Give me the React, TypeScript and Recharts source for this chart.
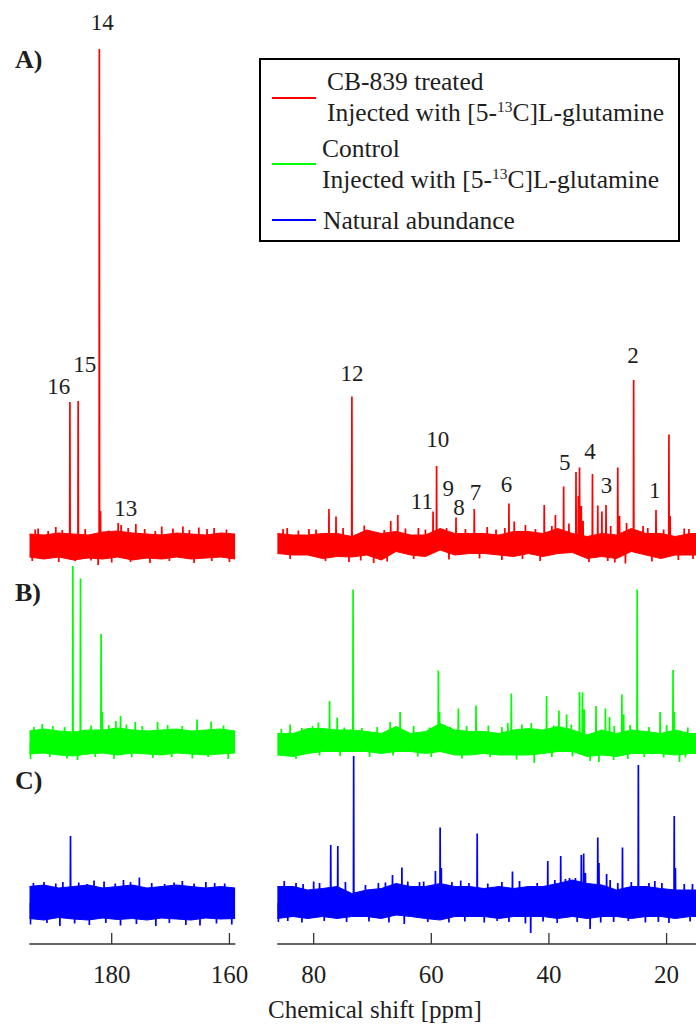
import React from 'react';
import { ComposedChart, Area, Line, Scatter, XAxis, YAxis } from 'recharts';

const FONT = "'Liberation Serif', 'Times New Roman', serif";
const INK = '#1e1e1e';
const AXIS = '#333';

type Peak = [number, number];
type Label = [string, number, number];

// x ticks for the two axis segments (ppm)
const leftTicks = [180, 160];
const rightTicks = [80, 60, 40, 20];

// noise band sample grid (ppm)
const leftGrid = [194, 191.5, 189, 186.5, 184, 181.5, 179, 176.5, 174, 171.5, 169, 166.5, 164, 161.5, 159];
const rightGrid = [86.2, 83.5, 81, 78.5, 76, 73.5, 71, 68.5, 66, 63.5, 61, 58.5, 56, 53.5, 51, 48.5, 46, 43.5, 41, 38.5, 36, 33.5, 31, 28.5, 26, 23.5, 21, 18.5, 16, 15];

// A) CB-839 treated (red) - noise envelope, a.u.
const redLeftHi = [2.4, 2.2, 2.6, 2.4, 2.2, 2.8, 3.0, 2.6, 2.4, 2.2, 2.6, 2.4, 2.2, 2.6, 2.4];
const redLeftLo = [-2.2, -2.6, -2.2, -2.8, -2.4, -2.6, -2.2, -2.8, -2.4, -2.6, -2.2, -2.6, -2.4, -2.2, -2.6];
const redRightHi = [2.5, 2.2, 2.2, 2.5, 2.5, 1.9, 3.2, 2.5, 2.9, 2.2, 2.2, 3.5, 2.5, 2.5, 2.5, 2.2, 2.9, 2.9, 2.5, 3.5, 2.5, 1.9, 2.5, 2.2, 3.5, 2.5, 2.5, 1.9, 2.5, 2.5];
const redRightLo = [-1.5, -1.8, -1.8, -2.5, -2.1, -2.2, -1.8, -2.8, -1.1, -1.8, -2.1, -0.8, -1.8, -1.5, -1.5, -1.8, -2.1, -1.5, -2.1, -1.5, -1.3, -2.5, -2.1, -2.5, -1.1, -1.8, -2.5, -1.8, -1.8, -1.8];

// B) control (green)
const greenLeftHi = [2.2, 2.6, 2.2, 2.0, 2.4, 2.4, 2.8, 2.4, 2.2, 2.4, 2.6, 2.2, 2.4, 2.6, 2.2];
const greenLeftLo = [-2.4, -2.2, -2.6, -2.8, -2.4, -2.2, -2.6, -2.2, -2.4, -2.6, -2.2, -2.4, -2.6, -2.4, -2.2];
const greenRightHi = [1.7, 1.7, 2.7, 2.7, 2.4, 2.4, 2.1, 1.7, 3.1, 1.7, 2.1, 3.7, 2.4, 2.1, 2.1, 1.7, 2.4, 2.7, 2.4, 3.1, 2.4, 1.4, 2.4, 1.7, 2.4, 2.1, 1.7, 2.4, 1.7, 1.7];
const greenRightLo = [-2.6, -2.9, -2.3, -1.9, -1.9, -1.9, -1.9, -2.3, -1.9, -1.9, -2.3, -1.9, -2.6, -2.6, -2.3, -2.6, -2.6, -2.6, -2.3, -1.9, -1.9, -2.9, -2.6, -2.9, -2.3, -2.3, -2.3, -2.6, -2.3, -2.3];

// C) natural abundance (blue)
const blueLeftHi = [3.3, 3.6, 3.0, 3.3, 3.6, 3.0, 3.3, 3.6, 3.0, 3.3, 3.6, 3.3, 3.0, 3.3, 3.0];
const blueLeftLo = [-3.1, -3.4, -2.9, -3.2, -3.4, -3.0, -3.3, -3.1, -3.4, -3.0, -3.2, -3.4, -3.0, -3.2, -3.1];
const blueRightHi = [3.3, 3.3, 2.6, 2.9, 3.3, 1.9, 2.6, 2.9, 3.9, 3.3, 3.3, 3.9, 3.3, 3.3, 2.9, 3.3, 2.9, 3.3, 3.3, 3.9, 4.6, 3.9, 3.6, 2.6, 3.3, 3.3, 2.9, 2.6, 2.6, 2.6];
const blueRightLo = [-3.1, -2.7, -3.1, -2.7, -3.1, -2.7, -2.7, -3.1, -2.4, -2.7, -3.1, -3.4, -2.7, -2.7, -2.7, -3.1, -2.7, -2.7, -2.7, -3.1, -2.7, -3.1, -2.7, -2.7, -3.1, -2.7, -2.7, -3.1, -2.7, -2.7];

// resolved peaks [ppm, height a.u.]
const redLeftPeaks: Peak[] = [
  [192.5, 3.5], [189.5, 3.8], [187.1, 28.8], [185.7, 29.0], [182.3, -3.8], [182.1, 99.4], [181.9, 7.0],
  [178.9, 4.6], [178.4, 4.2], [175.9, 4.4], [171.5, 3.9], [167.9, 3.9], [165.2, 3.7], [162.6, 3.6],
];
const redRightPeaks: Peak[] = [
  [84.5, 3.6], [80.8, 3.4], [77.4, 7.4], [76.2, 5.9], [74.0, -3.2], [73.5, 29.9], [69.8, -3.4], [66.9, 5.0],
  [65.7, 6.2], [62.2, 3.6], [59.7, 6.9], [59.1, 16.0], [55.8, 5.7], [52.7, 7.4], [50.5, 3.8], [46.8, 8.5],
  [45.9, 4.9], [44.0, 4.2], [40.8, 8.2], [38.9, 6.2], [37.5, 11.9], [35.4, 14.8], [35.0, 10.0], [34.8, 15.7],
  [34.5, 8.0], [34.2, 5.0], [32.6, 14.4], [31.7, 8.1], [31.0, 6.9], [30.3, 8.2], [28.3, 15.7], [28.0, 6.0],
  [27.0, -3.5], [25.6, 33.2], [24.0, 4.0], [21.8, 7.2], [19.6, 22.3], [19.4, 6.0], [17.0, 3.5],
];
const greenLeftPeaks: Peak[] = [
  [191.8, 3.6], [186.6, 35.2], [185.3, 32.7], [181.8, 21.6], [181.6, 6.0], [179.3, 4.2], [178.5, 5.2],
  [176.0, 4.0], [172.2, 4.0], [165.5, 4.5], [163.1, 4.1],
];
const greenRightPeaks: Peak[] = [
  [84.0, 3.5], [79.2, 3.9], [77.3, 8.2], [76.0, 4.9], [73.3, 30.5], [67.0, 4.0], [65.3, 6.0], [58.8, 14.3],
  [58.6, 6.0], [55.4, 6.7], [52.4, 7.3], [47.0, 3.8], [46.4, 9.7], [42.5, -4.2], [40.4, 9.2], [38.3, 6.3],
  [37.0, 5.5], [34.8, 10.0], [34.3, 9.9], [34.0, 6.5], [32.0, 7.2], [31.5, -4.0], [30.4, 6.7], [29.7, 5.0],
  [27.6, 9.5], [27.3, 5.5], [25.0, 30.5], [21.1, 6.0], [18.9, 14.4], [18.7, 6.0], [17.8, -4.0],
];
const blueLeftPeaks: Peak[] = [
  [188.3, 4.2], [187.0, 13.4], [183.0, 4.5], [178.0, 4.6], [175.3, 5.1], [168.0, 4.4], [162.5, 4.0],
];
const blueRightPeaks: Peak[] = [
  [80.0, 4.3], [77.1, 11.6], [75.9, 11.4], [73.2, 29.4], [69.0, 4.0], [66.6, 5.6], [65.0, 7.1], [62.0, 4.2],
  [59.3, 6.4], [58.5, 15.1], [58.3, 7.0], [55.0, 4.5], [52.2, 13.9], [46.2, 6.3], [43.1, -6.0], [40.2, 8.4],
  [38.0, 9.4], [36.5, 5.0], [34.5, 9.6], [34.1, 9.9], [33.8, 6.0], [33.0, -5.2], [31.7, 13.1], [31.5, 8.0],
  [30.2, 5.8], [27.5, 11.1], [24.8, 27.6], [22.0, 4.4], [18.7, 17.4], [18.5, 7.0],
];

// single-point noise spikes poking out of the band [ppm, a.u.]
const redLeftSpikes: Peak[] = [
  [193.0, 3.3], [190.8, 3.0], [188.4, 3.2], [184.5, 3.4], [180.5, 3.1], [177.2, 3.6], [174.4, 3.4], [172.6, 3.0],
  [169.6, 3.5], [166.8, 3.2], [163.8, 3.4], [160.5, 3.3], [193.5, -3.0], [189.0, -3.2], [186.2, -3.0], [183.5, -2.9],
  [180.0, -3.3], [176.8, -3.2], [173.5, -3.4], [170.2, -3.0], [166.0, -3.4], [163.0, -3.0], [160.0, -3.2],
];
const redRightSpikes: Peak[] = [
  [85.2, 3.4], [82.6, 3.1], [79.6, 3.3], [75.0, 3.6], [71.4, 4.1], [68.0, 3.2], [64.4, 3.5], [61.0, 3.3],
  [57.4, 3.6], [54.2, 3.4], [49.0, 3.3], [47.5, 3.6], [42.3, 3.4], [39.5, 4.0], [36.6, 4.5], [29.5, 4.0],
  [26.8, 4.6], [23.2, 3.6], [20.5, 3.3], [16.2, 3.4], [84.0, -2.6], [78.0, -3.0], [72.0, -2.9], [67.5, -3.1],
  [63.0, -2.6], [57.0, -2.7], [51.8, -2.5], [48.0, -2.8], [44.5, -2.6], [41.5, -3.0], [33.2, -3.2], [30.0, -3.0],
  [28.8, -3.3], [22.5, -3.1], [18.0, -2.8], [15.5, -2.6],
];
const greenLeftSpikes: Peak[] = [
  [193.2, 3.0], [190.0, 3.2], [188.0, 3.0], [183.5, 3.3], [180.5, 3.4], [177.5, 3.5], [174.8, 3.2], [170.5, 3.4],
  [168.0, 3.2], [161.0, 3.3], [193.8, -3.4], [190.5, -3.0], [187.6, -3.3], [185.8, -3.6], [182.8, -3.0],
  [179.6, -3.4], [176.6, -3.0], [173.0, -3.2], [169.8, -3.0], [166.3, -3.3], [163.6, -3.0], [160.2, -3.4],
];
const greenRightSpikes: Peak[] = [
  [85.5, 2.6], [82.0, 2.8], [80.2, 3.2], [74.8, 2.9], [71.8, 2.8], [69.2, 3.0], [63.0, 3.2], [60.3, 2.9],
  [56.8, 3.0], [54.0, 3.2], [50.3, 3.3], [48.0, 3.0], [44.6, 3.5], [43.0, 3.8], [39.2, 3.3], [36.2, 3.5],
  [28.9, 3.2], [26.2, 3.4], [23.0, 3.0], [20.0, 3.4], [16.4, 2.9], [83.0, -3.4], [79.0, -2.7], [75.5, -2.8],
  [70.5, -3.0], [66.5, -2.7], [62.3, -2.9], [60.0, -3.0], [54.8, -3.3], [50.0, -3.0], [45.5, -3.5], [39.5, -3.0],
  [36.0, -2.9], [33.0, -3.8], [29.0, -3.6], [26.6, -3.4], [23.8, -3.0], [20.5, -3.1], [16.8, -3.1],
];
const blueLeftSpikes: Peak[] = [
  [193.3, 4.0], [191.5, 4.2], [189.5, 3.9], [185.6, 4.1], [184.2, 3.8], [181.3, 4.3], [179.4, 3.9], [176.8, 4.2],
  [173.2, 4.0], [171.0, 3.8], [169.4, 4.1], [166.0, 3.9], [164.0, 4.2], [160.8, 3.9], [193.8, -4.3], [191.0, -4.0],
  [188.8, -4.6], [186.3, -4.1], [183.8, -4.4], [181.0, -4.0], [178.5, -4.5], [175.8, -4.2], [172.5, -4.6],
  [170.2, -4.0], [167.4, -4.4], [165.0, -4.5], [162.2, -4.1], [159.6, -4.3],
];
const blueRightSpikes: Peak[] = [
  [85.0, 4.4], [83.0, 4.0], [81.8, 3.8], [79.0, 4.0], [74.6, 4.2], [71.2, 3.6], [67.8, 4.1], [64.0, 4.3],
  [61.3, 4.3], [56.5, 4.2], [53.6, 4.0], [50.4, 3.9], [48.0, 4.2], [45.0, 4.4], [42.0, 4.0], [39.0, 4.6],
  [37.2, 4.8], [35.5, 5.0], [29.6, 4.6], [28.3, 4.0], [26.0, 4.2], [23.0, 4.0], [20.8, 4.0], [17.0, 3.8],
  [15.6, 3.8], [86.0, -3.8], [84.4, -3.6], [82.0, -3.9], [78.2, -3.6], [74.4, -3.8], [70.6, -3.7], [67.2, -3.9],
  [64.6, -4.2], [60.6, -3.8], [57.0, -3.9], [54.3, -3.7], [51.0, -3.9], [48.8, -3.6], [46.8, -3.8], [44.0, -4.1],
  [41.0, -3.7], [38.6, -4.0], [35.2, -3.8], [31.2, -3.9], [29.0, -3.8], [26.5, -3.6], [23.6, -3.9], [21.4, -3.8],
  [19.6, -4.0], [16.0, -3.7],
];

// peak assignment numbers [text, ppm, height a.u. on trace A]
const leftLabels: Label[] = [['16', 189.0, 32.0], ['15', 184.6, 36.4], ['14', 181.6, 104.8], ['13', 177.6, 7.7]];
const rightLabels: Label[] = [
  ['12', 73.5, 34.7], ['11', 61.6, 9.0], ['10', 58.9, 21.4], ['9', 57.1, 11.6], ['8', 55.3, 7.9],
  ['7', 52.5, 10.9], ['6', 47.2, 12.5], ['5', 37.3, 16.9], ['4', 33.0, 19.1], ['3', 30.2, 12.2],
  ['2', 25.7, 38.2], ['1', 22.0, 11.3],
];

// layout
const PLOT_TOP = 0;
const PLOT_BOTTOM = 944;
const PX_PER_UNIT = 5;
const axisDomain = (base: number): [number, number] => [
  (base - PLOT_BOTTOM) / PX_PER_UNIT,
  (base - PLOT_TOP) / PX_PER_UNIT,
];

function bandData(grid: number[], lo: number[], hi: number[]) {
  return grid.map((ppm, i) => ({ ppm, band: [lo[i], hi[i]] }));
}

function peakTrace(peaks: Peak[]) {
  const pts: { ppm: number; v: number }[] = [];
  [...peaks].sort((a, b) => a[0] - b[0]).forEach(([ppm, h]) => {
    pts.push({ ppm: ppm - 0.04, v: 0 }, { ppm, v: h }, { ppm: ppm + 0.04, v: 0 });
  });
  return pts;
}

interface Spectrum {
  id: string;
  color: string;
  base: number;
  band: { ppm: number; band: number[] }[];
  trace: { ppm: number; v: number }[];
}

function AxisTick(props: any) {
  const { x, y, payload } = props;
  return (
    <g>
      <line x1={x} x2={x} y1={y} y2={y - 11} stroke={AXIS} strokeWidth={1.3} />
      <text x={x} y={y + 39} textAnchor="middle" fontSize={25} fontFamily={FONT} fill={INK}>
        {payload.value}
      </text>
    </g>
  );
}

function Column({
  left, width, marginLeft, marginRight, domain, ticks, spectra, labels,
}: {
  left: number; width: number; marginLeft: number; marginRight: number;
  domain: [number, number]; ticks: number[]; spectra: Spectrum[]; labels: Label[];
}) {
  const labelData = labels.map(([text, ppm, v]) => ({ text, ppm, v }));
  const items: React.ReactElement[] = [];
  spectra.forEach((s) => {
    items.push(
      <Area
        key={s.id + '-band'}
        yAxisId={s.id}
        data={s.band}
        dataKey="band"
        type="linear"
        stroke={s.color}
        strokeWidth={1}
        fill={s.color}
        fillOpacity={1}
        dot={false}
        activeDot={false}
        isAnimationActive={false}
      />,
      <Line
        key={s.id + '-peaks'}
        yAxisId={s.id}
        data={s.trace}
        dataKey="v"
        type="linear"
        stroke={s.color}
        strokeWidth={1.7}
        dot={false}
        activeDot={false}
        isAnimationActive={false}
      />,
    );
  });
  return (
    <div style={{ position: 'absolute', left, top: 0 }}>
      <ComposedChart
        width={width}
        height={1028}
        margin={{ top: PLOT_TOP, right: marginRight, bottom: 0, left: marginLeft }}
      >
        <XAxis
          type="number"
          dataKey="ppm"
          domain={domain}
          reversed
          allowDataOverflow
          ticks={ticks}
          interval={0}
          height={84}
          tickSize={0}
          tickMargin={0}
          tickLine={false}
          axisLine={{ stroke: AXIS, strokeWidth: 1.3 }}
          tick={(p: any) => <AxisTick {...p} />}
        />
        {spectra.map((s) => (
          <YAxis key={s.id} yAxisId={s.id} type="number" hide domain={axisDomain(s.base)} allowDataOverflow />
        ))}
        {items}
        <Scatter
          yAxisId="red"
          data={labelData}
          dataKey="v"
          isAnimationActive={false}
          shape={(p: any) => (
            <text x={p.cx} y={p.cy + 8} textAnchor="middle" fontSize={23} fontFamily={FONT} fill={INK}>
              {p.payload.text}
            </text>
          )}
        />
      </ComposedChart>
    </div>
  );
}

const RED = '#ff0000';
const GREEN = '#00ff00';
const BLUE = '#0000ff';

const leftSpectra: Spectrum[] = [
  { id: 'red', color: RED, base: 546, band: bandData(leftGrid, redLeftLo, redLeftHi), trace: peakTrace([...redLeftPeaks, ...redLeftSpikes]) },
  { id: 'green', color: GREEN, base: 742, band: bandData(leftGrid, greenLeftLo, greenLeftHi), trace: peakTrace([...greenLeftPeaks, ...greenLeftSpikes]) },
  { id: 'blue', color: BLUE, base: 903, band: bandData(leftGrid, blueLeftLo, blueLeftHi), trace: peakTrace([...blueLeftPeaks, ...blueLeftSpikes]) },
];
const rightSpectra: Spectrum[] = [
  { id: 'red', color: RED, base: 546, band: bandData(rightGrid, redRightLo, redRightHi), trace: peakTrace([...redRightPeaks, ...redRightSpikes]) },
  { id: 'green', color: GREEN, base: 742, band: bandData(rightGrid, greenRightLo, greenRightHi), trace: peakTrace([...greenRightPeaks, ...greenRightSpikes]) },
  { id: 'blue', color: BLUE, base: 903, band: bandData(rightGrid, blueRightLo, blueRightHi), trace: peakTrace([...blueRightPeaks, ...blueRightSpikes]) },
];

const textStyle: React.CSSProperties = {
  position: 'absolute',
  fontFamily: FONT,
  fontSize: 25,
  lineHeight: '30px',
  color: INK,
  whiteSpace: 'nowrap',
};
const legendText: React.CSSProperties = { ...textStyle, fontSize: 25.5 };

function Glutamine() {
  return (
    <>
      Injected with [5-<span style={{ fontSize: 15.5, position: 'relative', top: -9 }}>13</span>C]L-glutamine
    </>
  );
}

function LegendBox() {
  const swatch = (top: number, color: string) => (
    <div style={{ position: 'absolute', left: 272, top: top - 1, width: 44, height: 2, background: color }} />
  );
  return (
    <>
      <div
        style={{
          position: 'absolute', left: 259, top: 58, width: 421, height: 184,
          border: '2px solid #000', boxSizing: 'border-box', background: '#fff',
        }}
      />
      {swatch(98, RED)}
      <div style={{ ...legendText, left: 327, top: 67 }}>CB-839 treated</div>
      <div style={{ ...legendText, left: 327, top: 98 }}><Glutamine /></div>
      {swatch(164, GREEN)}
      <div style={{ ...legendText, left: 322, top: 134 }}>Control</div>
      <div style={{ ...legendText, left: 322, top: 165 }}><Glutamine /></div>
      {swatch(220, BLUE)}
      <div style={{ ...legendText, left: 323, top: 206 }}>Natural abundance</div>
    </>
  );
}

export default function App() {
  const panel: React.CSSProperties = { ...textStyle, fontSize: 26, fontWeight: 'bold', left: 15 };
  return (
    <div style={{ position: 'absolute', left: 0, top: 0, width: 696, height: 1028, background: '#fff', overflow: 'hidden' }}>
      <Column
        left={0}
        width={260}
        marginLeft={29.3}
        marginRight={24.7}
        domain={[159, 194]}
        ticks={leftTicks}
        spectra={leftSpectra}
        labels={leftLabels}
      />
      <Column
        left={260}
        width={436}
        marginLeft={17.2}
        marginRight={0}
        domain={[15, 86.2]}
        ticks={rightTicks}
        spectra={rightSpectra}
        labels={rightLabels}
      />
      <div style={{ ...panel, top: 45 }}>A)</div>
      <div style={{ ...panel, top: 578 }}>B)</div>
      <div style={{ ...panel, top: 766 }}>C)</div>
      <LegendBox />
      <div style={{ ...textStyle, left: 268, top: 995 }}>Chemical shift [ppm]</div>
    </div>
  );
}
